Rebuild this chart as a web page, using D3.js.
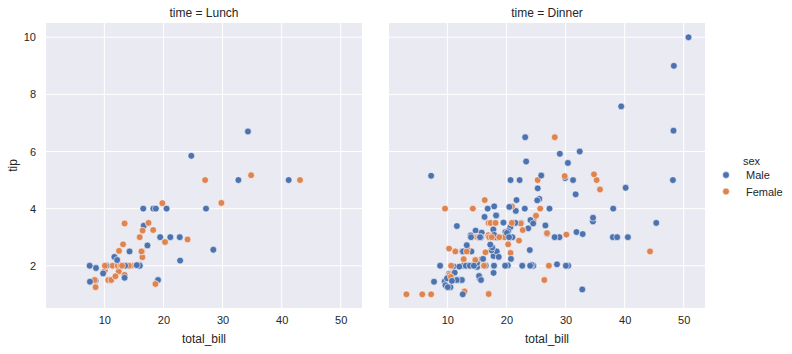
<!DOCTYPE html>
<html>
<head>
<meta charset="utf-8">
<script src="https://cdn.jsdelivr.net/npm/d3@7"></script>
<style>
  body { margin: 0; background: #fff; }
  svg { display: block; font-family: Arial, "Liberation Sans", sans-serif; }
</style>
</head>
<body>
<div id="chart"></div>
<script>
// tips data (total_bill, tip, sex, time)
const totalBill = [
  16.99, 10.34, 21.01, 23.68, 24.59, 25.29, 8.77, 26.88, 15.04, 14.78,
  10.27, 35.26, 15.42, 18.43, 14.83, 21.58, 10.33, 16.29, 16.97, 20.65,
  17.92, 20.29, 15.77, 39.42, 19.82, 17.81, 13.37, 12.69, 21.7, 19.65,
  9.55, 18.35, 15.06, 20.69, 17.78, 24.06, 16.31, 16.93, 18.69, 31.27,
  16.04, 17.46, 13.94, 9.68, 30.4, 18.29, 22.23, 32.4, 28.55, 18.04,
  12.54, 10.29, 34.81, 9.94, 25.56, 19.49, 38.01, 26.41, 11.24, 48.27,
  20.29, 13.81, 11.02, 18.29, 17.59, 20.08, 16.45, 3.07, 20.23, 15.01,
  12.02, 17.07, 26.86, 25.28, 14.73, 10.51, 17.92, 27.2, 22.76, 17.29,
  19.44, 16.66, 10.07, 32.68, 15.98, 34.83, 13.03, 18.28, 24.71, 21.16,
  28.97, 22.49, 5.75, 16.32, 22.75, 40.17, 27.28, 12.03, 21.01, 12.46,
  11.35, 15.38, 44.3, 22.42, 20.92, 15.36, 20.49, 25.21, 18.24, 14.31,
  14.0, 7.25, 38.07, 23.95, 25.71, 17.31, 29.93, 10.65, 12.43, 24.08,
  11.69, 13.42, 14.26, 15.95, 12.48, 29.8, 8.52, 14.52, 11.38, 22.82,
  19.08, 20.27, 11.17, 12.26, 18.26, 8.51, 10.33, 14.15, 16.0, 13.16,
  17.47, 34.3, 41.19, 27.05, 16.43, 8.35, 18.64, 11.87, 9.78, 7.51,
  14.07, 13.13, 17.26, 24.55, 19.77, 29.85, 48.17, 25.0, 13.39, 16.49,
  21.5, 12.66, 16.21, 13.81, 17.51, 24.52, 20.76, 31.71, 10.59, 10.63,
  50.81, 15.81, 7.25, 31.85, 16.82, 32.9, 17.89, 14.48, 9.6, 34.63,
  34.65, 23.33, 45.35, 23.17, 40.55, 20.69, 20.9, 30.46, 18.15, 23.1,
  15.69, 19.81, 28.44, 15.48, 16.58, 7.56, 10.34, 43.11, 13.0, 13.51,
  18.71, 12.74, 13.0, 16.4, 20.53, 16.47, 26.59, 38.73, 24.27, 12.76,
  30.06, 25.89, 48.33, 13.27, 28.17, 12.9, 28.15, 11.59, 7.74, 30.14,
  12.16, 13.42, 8.58, 15.98, 13.42, 16.27, 10.09, 20.45, 13.28, 22.12,
  24.01, 15.69, 11.61, 10.77, 15.53, 10.07, 12.6, 32.83, 35.83, 29.03,
  27.18, 22.67, 17.82, 18.78
];

const tip = [
  1.01, 1.66, 3.5, 3.31, 3.61, 4.71, 2.0, 3.12, 1.96, 3.23,
  1.71, 5.0, 1.57, 3.0, 3.02, 3.92, 1.67, 3.71, 3.5, 3.35,
  4.08, 2.75, 2.23, 7.58, 3.18, 2.34, 2.0, 2.0, 4.3, 3.0,
  1.45, 2.5, 3.0, 2.45, 3.27, 3.6, 2.0, 3.07, 2.31, 5.0,
  2.24, 2.54, 3.06, 1.32, 5.6, 3.0, 5.0, 6.0, 2.05, 3.0,
  2.5, 2.6, 5.2, 1.56, 4.34, 3.51, 3.0, 1.5, 1.76, 6.73,
  3.21, 2.0, 1.98, 3.76, 2.64, 3.15, 2.47, 1.0, 2.01, 2.09,
  1.97, 3.0, 3.14, 5.0, 2.2, 1.25, 3.08, 4.0, 3.0, 2.71,
  3.0, 3.4, 1.83, 5.0, 2.03, 5.17, 2.0, 4.0, 5.85, 3.0,
  3.0, 3.5, 1.0, 4.3, 3.25, 4.73, 4.0, 1.5, 3.0, 1.5,
  2.5, 3.0, 2.5, 3.48, 4.08, 1.64, 4.06, 4.29, 3.76, 4.0,
  3.0, 1.0, 4.0, 2.55, 4.0, 3.5, 5.07, 1.5, 1.8, 2.92,
  2.31, 1.68, 2.5, 2.0, 2.52, 4.2, 1.48, 2.0, 2.0, 2.18,
  1.5, 2.83, 1.5, 2.0, 3.25, 1.25, 2.0, 2.0, 2.0, 2.75,
  3.5, 6.7, 5.0, 5.0, 2.3, 1.5, 1.36, 1.63, 1.73, 2.0,
  2.5, 2.0, 2.74, 2.0, 2.0, 5.14, 5.0, 3.75, 2.61, 2.0,
  3.5, 2.5, 2.0, 2.0, 3.0, 3.48, 2.24, 4.5, 1.61, 2.0,
  10.0, 3.16, 5.15, 3.18, 4.0, 3.11, 2.0, 2.0, 4.0, 3.55,
  3.68, 5.65, 3.5, 6.5, 3.0, 5.0, 3.5, 2.0, 3.5, 4.0,
  1.5, 4.19, 2.56, 2.02, 4.0, 1.44, 2.0, 5.0, 2.0, 2.0,
  4.0, 2.01, 2.0, 2.5, 4.0, 3.23, 3.41, 3.0, 2.03, 2.23,
  2.0, 5.16, 9.0, 2.5, 6.5, 1.1, 3.0, 1.5, 1.44, 3.09,
  2.2, 3.48, 1.92, 3.0, 1.58, 2.5, 2.0, 3.0, 2.72, 2.88,
  2.0, 3.0, 3.39, 1.47, 3.0, 1.25, 1.0, 1.17, 4.67, 5.92,
  2.0, 2.0, 1.75, 3.0
];

// M = Male, F = Female
const sexCode = [
  'FMMMFMMMMM', 'MFMMFMFMFM', 'MFFMMMMMMF', 'MMFFMMMFMM',
  'MMMMMMMMMM', 'MFFMMMMFMM', 'MMMMMMFFMM', 'MFFFFMMMMM',
  'MMFMMFMMMM', 'MMFFFMMMMM', 'FFFFFMMMMF', 'MFMMFFMFFF',
  'MFMMFFMFFM', 'MFFFFFFFMF', 'FMMFFFFFMM', 'MMMMMFMFFM',
  'MMFMFMMMFF', 'MMMMMMMMFM', 'MMMMMMFMFM', 'MFMMMMMFFM',
  'MFFFMFMMMF', 'MMMFFFMMMF', 'MFMFMFFMMF', 'MMMMMMMMFM',
  'FMMF'
].join('').split('');

// D = Dinner, L = Lunch
const timeCode = [
  'DDDDDDDDDD', 'DDDDDDDDDD', 'DDDDDDDDDD', 'DDDDDDDDDD',
  'DDDDDDDDDD', 'DDDDDDDDDD', 'DDDDDDDDDD', 'DDDDDDDLLL',
  'LLLLLLLLLL', 'DDDDDDDDDD', 'DDDDDDDDDD', 'DDDDDDDLLL',
  'LLLLLLLLLL', 'LLLLLLLLLL', 'LLLLLLLLLL', 'DDDDDDDDDD',
  'DDDDDDDDDD', 'DDDDDDDDDD', 'DDDDDDDDDD', 'DLLLLLLLLL',
  'LLLLLLDDDD', 'DDDDDDDDDD', 'LLLLLLLDDD', 'DDDDDDDDDD',
  'DDDD'
].join('').split('');

const sexNames = { M: 'Male', F: 'Female' };
const timeNames = { L: 'Lunch', D: 'Dinner' };
const panels = ['L', 'D'];
const hueOrder = ['M', 'F'];
const xTicks = [10, 20, 30, 40, 50];
const yTicks = [2, 4, 6, 8, 10];

const data = totalBill.map((b, i) => ({
  bill: b,
  tip: tip[i],
  sex: sexCode[i],
  time: timeCode[i],
}));

const size = { width: 792, height: 354 };
const panel = { left: 46, top: 23, width: 316, height: 285, gap: 27 };
const textColor = '#262626';

const color = d3.scaleOrdinal().domain(hueOrder).range(['#4C72B0', '#DD8452']);

const x = d3.scaleLinear().domain([0.12, 53.6]).range([0, panel.width]);
const y = d3.scaleLinear().domain([0.52, 10.5]).range([panel.height, 0]);

const svg = d3
  .select('#chart')
  .append('svg')
  .attr('width', size.width)
  .attr('height', size.height);

panels.forEach((t, pi) => {
  const g = svg
    .append('g')
    .attr('transform', `translate(${panel.left + pi * (panel.width + panel.gap)}, ${panel.top})`);

  g.append('rect')
    .attr('width', panel.width)
    .attr('height', panel.height)
    .attr('fill', '#EAEAF2');

  // grid
  g.selectAll('.vgrid')
    .data(xTicks)
    .enter()
    .append('line')
    .attr('x1', (d) => x(d))
    .attr('x2', (d) => x(d))
    .attr('y1', 0)
    .attr('y2', panel.height)
    .attr('stroke', '#fff')
    .attr('stroke-width', 1);

  g.selectAll('.hgrid')
    .data(yTicks)
    .enter()
    .append('line')
    .attr('x1', 0)
    .attr('x2', panel.width)
    .attr('y1', (d) => y(d))
    .attr('y2', (d) => y(d))
    .attr('stroke', '#fff')
    .attr('stroke-width', 1);

  // x axis
  const xAxis = g
    .append('g')
    .attr('transform', `translate(0, ${panel.height})`)
    .call(d3.axisBottom(x).tickValues(xTicks).tickSize(0).tickPadding(8));
  xAxis.select('.domain').remove();
  xAxis.selectAll('text').attr('fill', textColor).style('font-size', '11px');

  g.append('text')
    .attr('x', panel.width / 2)
    .attr('y', panel.height + 35)
    .attr('text-anchor', 'middle')
    .attr('fill', textColor)
    .style('font-size', '12px')
    .text('total_bill');

  // y axis only on first panel
  if (pi === 0) {
    const yAxis = g
      .append('g')
      .call(d3.axisLeft(y).tickValues(yTicks).tickSize(0).tickPadding(10));
    yAxis.select('.domain').remove();
    yAxis.selectAll('text').attr('fill', textColor).style('font-size', '11px');

    g.append('text')
      .attr('transform', `translate(-29, ${panel.height / 2}) rotate(-90)`)
      .attr('text-anchor', 'middle')
      .attr('fill', textColor)
      .style('font-size', '12px')
      .text('tip');
  }

  g.append('text')
    .attr('x', panel.width / 2)
    .attr('y', -6)
    .attr('text-anchor', 'middle')
    .attr('fill', textColor)
    .style('font-size', '12px')
    .text(`time = ${timeNames[t]}`);

  g.selectAll('.pt')
    .data(data.filter((d) => d.time === t))
    .enter()
    .append('circle')
    .attr('cx', (d) => x(d.bill))
    .attr('cy', (d) => y(d.tip))
    .attr('r', 3.4)
    .attr('fill', (d) => color(d.sex))
    .attr('stroke', '#fff')
    .attr('stroke-width', 0.6);
});

// legend
const legend = svg.append('g').attr('transform', 'translate(726, 161)');

legend
  .append('text')
  .attr('x', 17)
  .attr('y', 4)
  .attr('fill', textColor)
  .style('font-size', '11px')
  .text('sex');

hueOrder.forEach((s, i) => {
  const row = legend.append('g').attr('transform', `translate(0, ${14 + i * 16.5})`);
  row.append('circle')
    .attr('r', 3.4)
    .attr('fill', color(s))
    .attr('stroke', '#fff')
    .attr('stroke-width', 0.6);
  row.append('text')
    .attr('x', 20)
    .attr('y', 4)
    .attr('fill', textColor)
    .style('font-size', '11px')
    .text(sexNames[s]);
});
</script>
</body>
</html>
